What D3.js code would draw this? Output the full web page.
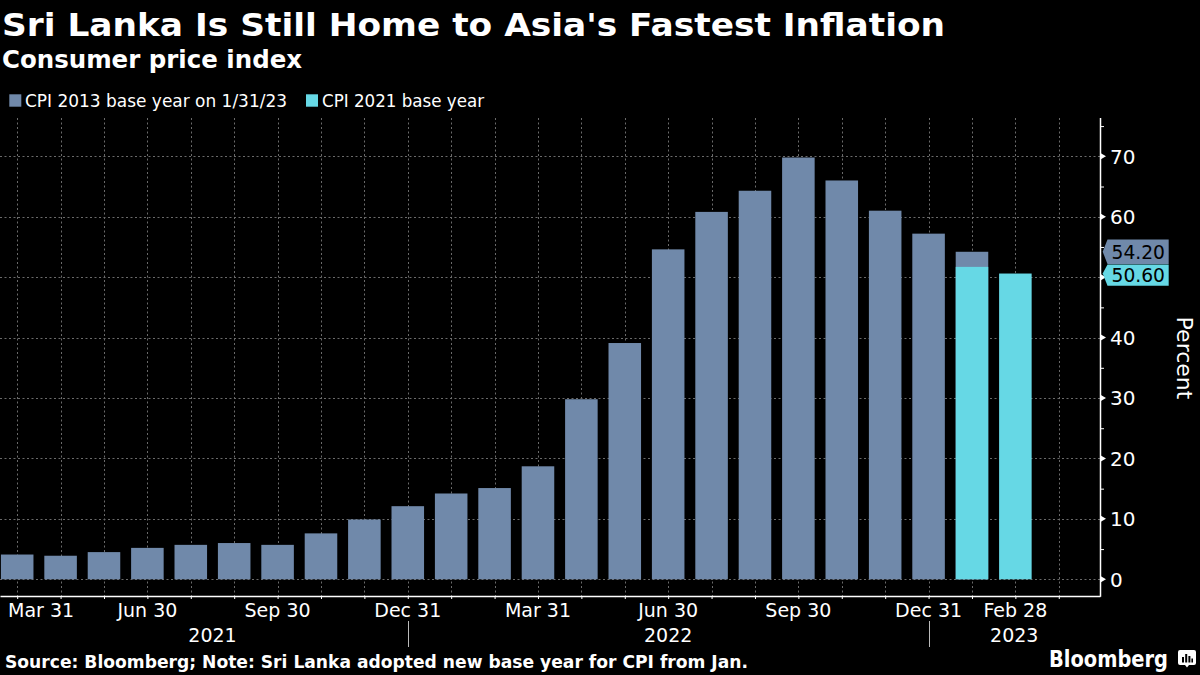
<!DOCTYPE html>
<html>
<head>
<meta charset="utf-8">
<script src="https://cdn.jsdelivr.net/npm/d3@7"></script>
<style>
  html, body { margin: 0; padding: 0; background: #000; }
  svg { display: block; }
  text { font-family: "DejaVu Sans", "Noto Sans", sans-serif; }
</style>
</head>
<body>
<svg id="chart" width="1200" height="675"></svg>
<script>
// ---------------- data ----------------
const months = [
  "2021-03-31","2021-04-30","2021-05-31","2021-06-30","2021-07-31","2021-08-31",
  "2021-09-30","2021-10-31","2021-11-30","2021-12-31","2022-01-31","2022-02-28",
  "2022-03-31","2022-04-30","2022-05-31","2022-06-30","2022-07-31","2022-08-31",
  "2022-09-30","2022-10-31","2022-11-30","2022-12-31","2023-01-31","2023-02-28"
];
const cpi2013 = [4.1, 3.9, 4.5, 5.2, 5.7, 6.0, 5.7, 7.6, 9.9, 12.1, 14.2, 15.1,
                 18.7, 29.8, 39.1, 54.6, 60.8, 64.3, 69.8, 66.0, 61.0, 57.2, 54.2, null];
const cpi2021 = [null, null, null, null, null, null, null, null, null, null, null, null,
                 null, null, null, null, null, null, null, null, null, null, 51.7, 50.6];
const seriesNames = ["CPI 2013 base year on 1/31/23", "CPI 2021 base year"];
const lastValueLabels = ["54.20", "50.60"];
const yTicks = [0, 10, 20, 30, 40, 50, 60, 70];
const yMinorTicks = [5, 15, 25, 35, 45, 55, 65, 75];
const monthLabelIdx = [0, 3, 6, 9, 12, 15, 18, 21, 23];
const monthLabels = ["Mar 31", "Jun 30", "Sep 30", "Dec 31", "Mar 31", "Jun 30", "Sep 30", "Dec 31", "Feb 28"];
const yearLabels = ["2021", "2022", "2023"];
const yearStartIdx = [0, 9, 21];   // year separators at Dec 31 ticks
const titleText = "Sri Lanka Is Still Home to Asia's Fastest Inflation";
const subtitleText = "Consumer price index";
const sourceText = "Source: Bloomberg; Note: Sri Lanka adopted new base year for CPI from Jan.";

// ---------------- layout ----------------
const colors = ["#7089aa", "#66d8e5"];
const svg = d3.select("#chart");
svg.append("rect").attr("width", 1200).attr("height", 675).attr("fill", "#000");

const plot = { left: 0, right: 1100, top: 118, bottom: 596 };
const x = d3.scaleLinear().domain([-0.396, 24.95]).range([plot.left, plot.right]);
const y = d3.scaleLinear().domain([0, 70]).range([579.3, 156.3]);
const step = x(1) - x(0);
const barW = step * 0.75;

function fit(sel, w) {
  sel.attr("textLength", w).attr("lengthAdjust", "spacingAndGlyphs");
}

// ---------------- titles ----------------
svg.append("text").attr("x", 2).attr("y", 36).attr("fill", "#fff")
  .attr("font-size", 32).attr("font-weight", "bold").text(titleText).call(fit, 943);
svg.append("text").attr("x", 2).attr("y", 67.5).attr("fill", "#fff")
  .attr("font-size", 24).attr("font-weight", "bold").text(subtitleText).call(fit, 300);

// legend
const legendPos = [{ sq: 9.3, tx: 25, w: 262 }, { sq: 306, tx: 322, w: 162 }];
seriesNames.forEach((n, i) => {
  svg.append("rect").attr("x", legendPos[i].sq).attr("y", 94.3).attr("width", 12).attr("height", 12.4)
    .attr("fill", colors[i]);
  svg.append("text").attr("x", legendPos[i].tx).attr("y", 106.7).attr("fill", "#fff")
    .attr("font-size", 17).text(n).call(fit, legendPos[i].w);
});

// ---------------- gridlines ----------------
const grid = svg.append("g").attr("stroke", "#6a6a6a").attr("stroke-width", 1).attr("stroke-dasharray", "2,2.5");
grid.selectAll("line.h").data(yTicks).join("line")
  .attr("x1", plot.left).attr("x2", plot.right)
  .attr("y1", d => Math.round(y(d)) + 0.5).attr("y2", d => Math.round(y(d)) + 0.5);
const tickIdx = d3.range(0, 25);
grid.selectAll("line.v").data(tickIdx).join("line")
  .attr("x1", d => Math.round(x(d)) + 0.5).attr("x2", d => Math.round(x(d)) + 0.5)
  .attr("y1", plot.top).attr("y2", plot.bottom);

// ---------------- bars ----------------
const bars = svg.append("g");
[cpi2013, cpi2021].forEach((series, si) => {
  bars.append("g").selectAll("rect")
    .data(series.map((v, i) => ({ v, i })).filter(d => d.v != null))
    .join("rect")
    .attr("x", d => x(d.i) - barW / 2)
    .attr("width", barW)
    .attr("y", d => y(d.v))
    .attr("height", d => y(0) - y(d.v))
    .attr("fill", colors[si]);
});

// ---------------- x axis ----------------
const xAxis = d3.axisBottom(x).tickValues(tickIdx).tickSize(3).tickFormat("").tickSizeOuter(0);
const xg = svg.append("g").attr("transform", `translate(0,${plot.bottom})`).call(xAxis);
xg.select(".domain").attr("stroke", "#fff").attr("stroke-width", 1.5);
xg.selectAll(".tick line").attr("stroke", "#fff");

monthLabelIdx.forEach((idx, k) => {
  const t = svg.append("text").attr("y", 617.3).attr("fill", "#fff").attr("font-size", 19)
    .attr("text-anchor", "middle").text(monthLabels[k]);
  const w = t.node().getComputedTextLength();
  t.attr("x", Math.max(x(idx), 8 + w / 2));
});

// year labels and separators
const yearBounds = yearStartIdx.map((s, k) => {
  const a = x(s);
  const b = k < yearStartIdx.length - 1 ? x(yearStartIdx[k + 1]) : plot.right;
  return [a, b];
});
yearLabels.forEach((lab, k) => {
  svg.append("text").attr("x", (yearBounds[k][0] + yearBounds[k][1]) / 2).attr("y", 641.5)
    .attr("fill", "#fff").attr("font-size", 19).attr("text-anchor", "middle").text(lab);
  if (k > 0) {
    const sx = Math.round(x(yearStartIdx[k])) + 0.5;
    svg.append("line").attr("x1", sx).attr("x2", sx).attr("y1", 621).attr("y2", 647)
      .attr("stroke", "#bbb").attr("stroke-width", 1);
  }
});

// ---------------- last value label boxes (computed first, drawn later) ----------------
const lastVals = [cpi2013[22], cpi2021[23]];
const boxes = [];
lastVals.forEach((v, i) => {
  const cy = y(v);
  let top = cy - 12.3, bot = cy + 12.3;
  if (i > 0 && top < boxes[i - 1].bot + 0.5) { top = boxes[i - 1].bot + 0.5; }
  boxes.push({ top, bot, cy });
});

// ---------------- y axis (right) ----------------
const yAxis = d3.axisRight(y).tickValues(yMinorTicks).tickSize(4).tickFormat("").tickSizeOuter(0);
const yg = svg.append("g").attr("transform", `translate(${plot.right},0)`).call(yAxis);
yg.select(".domain").remove();
yg.selectAll(".tick line").attr("stroke", "#fff");
svg.append("line").attr("x1", plot.right + 0.5).attr("x2", plot.right + 0.5)
  .attr("y1", plot.top).attr("y2", plot.bottom + 0.75).attr("stroke", "#fff").attr("stroke-width", 1.5);
yTicks.forEach(v => {
  const yy = y(v);
  svg.append("path")
    .attr("d", `M${plot.right},${yy - 3.5}L${plot.right + 6},${yy}L${plot.right},${yy + 3.5}Z`)
    .attr("fill", "#fff");
  // labels hidden behind the value boxes are not drawn (as in the original)
  const hidden = boxes.some(b => yy + 8 > b.top && yy - 8 < b.bot);
  if (!hidden) {
    svg.append("text").attr("x", 1110).attr("y", yy + 7.3).attr("fill", "#fff")
      .attr("font-size", 20).text(v);
  }
});
svg.append("text")
  .attr("transform", "translate(1177,358) rotate(90)")
  .attr("text-anchor", "middle").attr("fill", "#fff").attr("font-size", 22).text("Percent");

// ---------------- last value labels ----------------
boxes.forEach((b, i) => {
  const tip = 1102.7, l = 1107.5, r = 1168.7;
  svg.append("path")
    .attr("d", `M${tip},${b.cy}L${l},${b.top}L${r},${b.top}L${r},${b.bot}L${l},${b.bot}Z`)
    .attr("fill", colors[i]);
  svg.append("text").attr("x", 1111.5).attr("y", (b.top + b.bot) / 2 + 7).attr("fill", "#000")
    .attr("font-size", 19).text(lastValueLabels[i]).call(fit, 53.5);
});

// ---------------- footer ----------------
svg.append("text").attr("x", 5).attr("y", 667.7).attr("fill", "#fff")
  .attr("font-size", 18.5).attr("font-weight", "bold").text(sourceText).call(fit, 743);
svg.append("text").attr("x", 1049).attr("y", 666.7).attr("fill", "#fff")
  .attr("font-size", 22.5).attr("font-weight", "bold").text("Bloomberg").call(fit, 119);
const ic = svg.append("g").attr("transform", "translate(1178,650)");
ic.append("path").attr("d", "M2,0H16Q18,0 18,2V13Q18,15 16,15H11L9,17.5L7,15H2Q0,15 0,13V2Q0,0 2,0Z").attr("fill", "#fff");
[[4, 7, 2], [7.2, 4, 2], [10.4, 6, 2], [13.4, 8.5, 1.6]].forEach(b => {
  ic.append("rect").attr("x", b[0]).attr("y", b[1]).attr("width", b[2]).attr("height", 12.5 - b[1]).attr("fill", "#000");
});
</script>
</body>
</html>
